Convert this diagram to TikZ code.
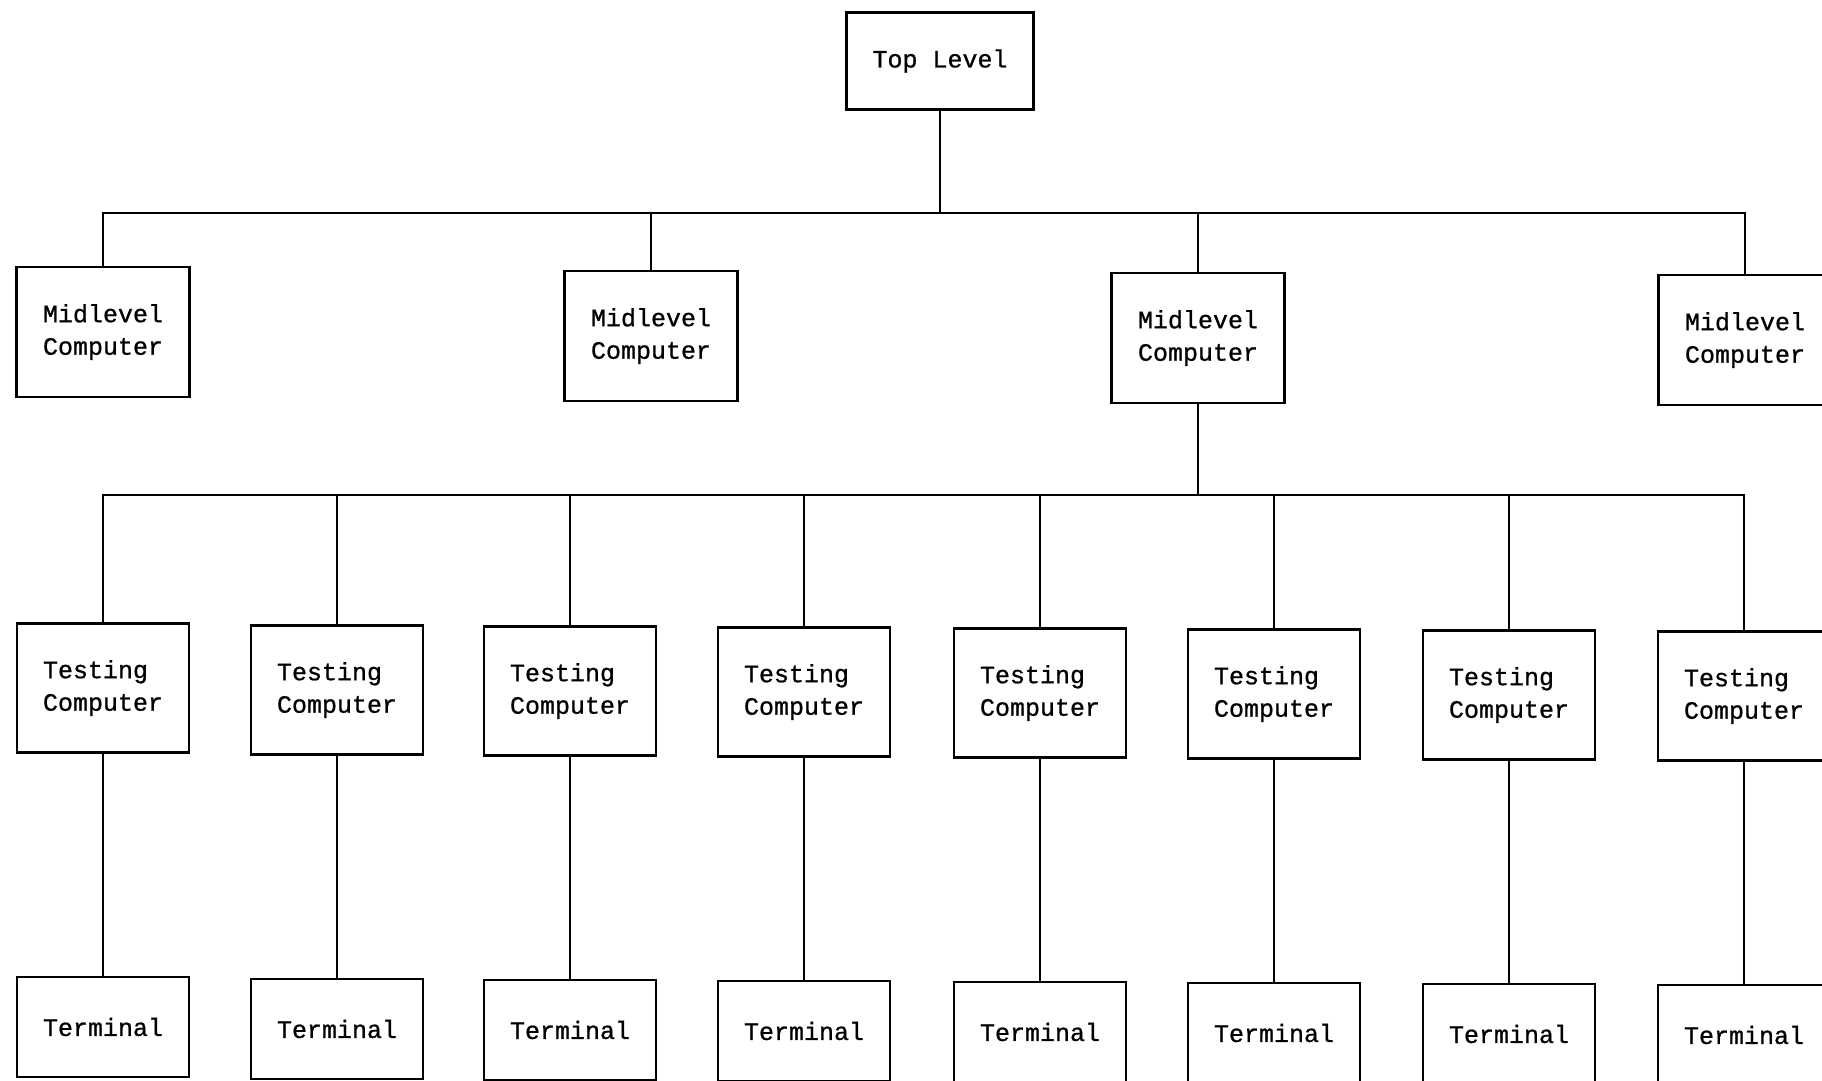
\documentclass[tikz,border=0pt]{standalone}
\usepackage{fontspec}
\newfontfamily\twfont[FakeBold=0.8]{Liberation Mono}
\begin{document}
\begin{tikzpicture}[x=1pt,y=-1pt,
  box/.style={draw, line width=2.3pt, inner sep=0pt, align=left,
    font=\twfont\fontsize{25}{32.5}\selectfont},
  topbox/.style={box, minimum width=187pt, minimum height=97pt},
  midbox/.style={box, minimum width=173pt, minimum height=130pt},
  testbox/.style={box, minimum width=172pt, minimum height=129pt},
  termbox/.style={box, minimum width=172pt, minimum height=100pt},
  link/.style={line width=2.3pt}]
\useasboundingbox (0,0) rectangle (1822,1080);
\clip (0,0) rectangle (1822,1080);
\fill[white] (0,0) rectangle (1822,1080);

\node[topbox] (top) at (940,61) {Top Level};

\node[midbox] (m1) at (103,332) {Midlevel\\Computer};
\node[midbox] (m2) at (651,336) {Midlevel\\Computer};
\node[midbox] (m3) at (1198,338) {Midlevel\\Computer};
\node[midbox] (m4) at (1745,340) {Midlevel\\Computer};

\coordinate (b1) at (940,213);
\draw[link] (top.south) -- (b1);
\foreach \m in {m1,m2,m3,m4} \draw[link] (\m.north) |- (b1);

\foreach \i/\x/\y in {1/103/688, 2/337/690, 3/570/691, 4/804/692, 5/1040/693, 6/1274/694, 7/1509/695, 8/1744/696} {
  \node[testbox] (t\i) at (\x,\y) {Testing\\Computer};
  \node[termbox] (r\i) at (\x,\y+339) {Terminal};
}

\coordinate (b2) at (1198,495);
\draw[link] (m3.south) -- (b2);
\foreach \i in {1,...,8} {
  \draw[link] (t\i.north) |- (b2);
  \draw[link] (t\i.south) -- (r\i.north);
}
\end{tikzpicture}
\end{document}
